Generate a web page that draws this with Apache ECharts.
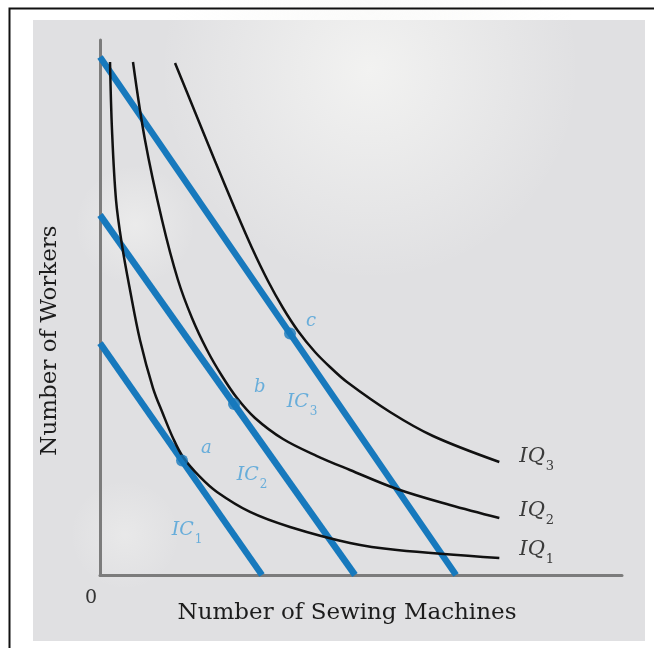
<!DOCTYPE html>
<html>
<head>
<meta charset="utf-8">
<script src="https://cdn.jsdelivr.net/npm/echarts@6/dist/echarts.min.js"></script>
<style>
  html, body { margin: 0; padding: 0; background: #ffffff; }
  #chart { width: 654px; height: 648px; }
</style>
</head>
<body>
<div id="chart"></div>
<script>
// Isoquants: points (sewing machines, workers)
const iq1 = [[0.192,9.589],[0.230,8.318],[0.307,7.009],[0.421,6.168],[0.575,5.327],[0.766,4.393],
             [1.015,3.495],[1.207,3.009],[1.398,2.561],[1.590,2.206],[1.916,1.832],[2.241,1.551],
             [2.874,1.178],[3.640,0.897],[4.789,0.598],[5.690,0.467],[7.650,0.318]];
const iq2 = [[0.632,9.589],[0.862,8.131],[1.188,6.636],[1.494,5.514],[1.762,4.804],[2.050,4.206],
             [2.337,3.720],[2.625,3.308],[2.969,2.935],[3.506,2.542],[4.157,2.224],[4.789,1.963],
             [5.690,1.607],[6.705,1.308],[7.650,1.065]];
const iq3 = [[1.437,9.570],[1.820,8.654],[2.203,7.738],[2.586,6.841],[2.912,6.112],[3.218,5.495],
             [3.506,4.991],[3.793,4.561],[4.119,4.168],[4.406,3.888],[4.732,3.607],[5.556,3.047],
             [6.379,2.598],[7.650,2.112]];

// Isocost lines: intercepts on the two axes
const ic1 = [[0,4.336],[3.103,0]];
const ic2 = [[0,6.729],[4.885,0]];
const ic3 = [[0,9.682],[6.820,0]];

// Cost-minimising points where each isocost touches an isoquant
const tangency = [[1.571,2.140],[2.567,3.197],[3.640,4.514]];
const tangencyNames = ['a','b','c'];

// Isocost line names and where they are written
const icNames = [['IC','1'],['IC','2'],['IC','3']];
const icLabelAt = [[1.667,0.785],[2.912,1.813],[3.870,3.178]];
const iqNames = [['IQ','1'],['IQ','2'],['IQ','3']];

const BLUE = '#1779bd';
const LABEL_BLUE = '#4aa0d8';
const SERIF = '"DejaVu Serif", "Liberation Serif", serif';

const chart = echarts.init(document.getElementById('chart'), null, { renderer: 'canvas' });

function subRich(color, size) {
  return {
    m: { fontFamily: SERIF, fontStyle: 'italic', fontSize: size, color: color, padding: [0, 1, 6, 0], verticalAlign: 'bottom' },
    s: { fontFamily: SERIF, fontSize: Math.round(size * 0.62), color: color, verticalAlign: 'bottom' }
  };
}

function isoquant(name, pts, tag, dy) {
  return {
    name: name,
    type: 'line',
    data: pts,
    smooth: 0.35,
    showSymbol: false,
    z: 4,
    lineStyle: { color: '#111111', width: 2.5 },
    endLabel: {
      show: true,
      distance: 20,
      offset: [0, dy],
      formatter: '{m|' + tag[0] + '}{s|' + tag[1] + '}',
      rich: subRich('#3a3a3a', 21)
    }
  };
}

function isocost(name, pts) {
  return {
    name: name,
    type: 'line',
    data: pts,
    showSymbol: false,
    z: 3,
    lineStyle: { color: BLUE, width: 6.5 }
  };
}

const tangentLabelOffset = [[8, -12], [9, -17], [5, -12]];

function glow(cx, cy, r, a) {
  return {
    type: 'circle', z: -19, silent: true, shape: { cx: cx, cy: cy, r: r },
    style: { fill: new echarts.graphic.RadialGradient(0.5, 0.5, 0.5, [
      { offset: 0, color: 'rgba(248,248,246,' + a + ')' }, { offset: 1, color: 'rgba(248,248,246,0)' }]) }
  };
}

const option = {
  animation: false,
  backgroundColor: 'transparent',
  grid: { left: 100, right: 32, top: 40, bottom: 73, containLabel: false },
  xAxis: {
    type: 'value', min: 0, max: 10, interval: 2,
    name: 'Number of Sewing Machines',
    nameLocation: 'middle', nameGap: 27, nameMoveOverlap: false,
    nameTextStyle: { fontFamily: SERIF, fontSize: 23, color: '#1c1c1c', padding: [0, 28, 0, 0] },
    axisLine: { show: true, onZero: false, lineStyle: { color: '#7c7c7c', width: 3 } },
    axisTick: { show: false },
    splitLine: { show: false },
    axisLabel: {
      show: true, margin: 14, align: 'right', padding: [0, 3, 0, 0],
      fontFamily: SERIF, fontSize: 19, color: '#333',
      formatter: v => (v === 0 ? '0' : '')
    }
  },
  yAxis: {
    type: 'value', min: 0, max: 10, interval: 2,
    name: 'Number of Workers',
    nameLocation: 'middle', nameGap: 38, nameRotate: 90,
    nameTextStyle: { fontFamily: SERIF, fontSize: 23, color: '#1c1c1c', padding: [0, 66, 0, 0] },
    axisLine: { show: true, onZero: false, lineStyle: { color: '#7c7c7c', width: 3 } },
    axisTick: { show: false },
    splitLine: { show: false },
    axisLabel: { show: false }
  },
  graphic: [
    // paper, light patches and frame
    { type: 'rect', z: -20, silent: true, shape: { x: 33, y: 20, width: 612, height: 621 }, style: { fill: '#e0e0e2' } },
    glow(370, 70, 210, 0.75),
    glow(135, 225, 60, 0.45),
    glow(125, 535, 55, 0.35),
    { type: 'polyline', z: 50, silent: true, shape: { points: [[9.5, 660], [9.5, 8.5], [660, 8.5]] },
      style: { stroke: '#111', lineWidth: 2, fill: null } }
  ],
  series: [
    isocost('IC1', ic1),
    isocost('IC2', ic2),
    isocost('IC3', ic3),
    isoquant('IQ1', iq1, iqNames[0], -5),
    isoquant('IQ2', iq2, iqNames[1], -4),
    isoquant('IQ3', iq3, iqNames[2], -2),
    {
      name: 'tangency',
      type: 'scatter',
      z: 5,
      symbolSize: 12,
      itemStyle: { color: BLUE },
      data: tangency.map((p, i) => ({
        value: p,
        label: {
          show: true, position: 'right', offset: tangentLabelOffset[i],
          formatter: tangencyNames[i],
          fontFamily: SERIF, fontStyle: 'italic', fontSize: 18, color: LABEL_BLUE
        }
      }))
    },
    {
      name: 'isocost labels',
      type: 'scatter',
      z: 6,
      symbolSize: 1,
      itemStyle: { color: 'rgba(0,0,0,0)' },
      data: icLabelAt.map((p, i) => ({
        value: p,
        label: {
          show: true, position: 'inside',
          formatter: '{m|' + icNames[i][0] + '}{s|' + icNames[i][1] + '}',
          rich: subRich(LABEL_BLUE, 19)
        }
      }))
    }
  ]
};

chart.setOption(option);
</script>
</body>
</html>
